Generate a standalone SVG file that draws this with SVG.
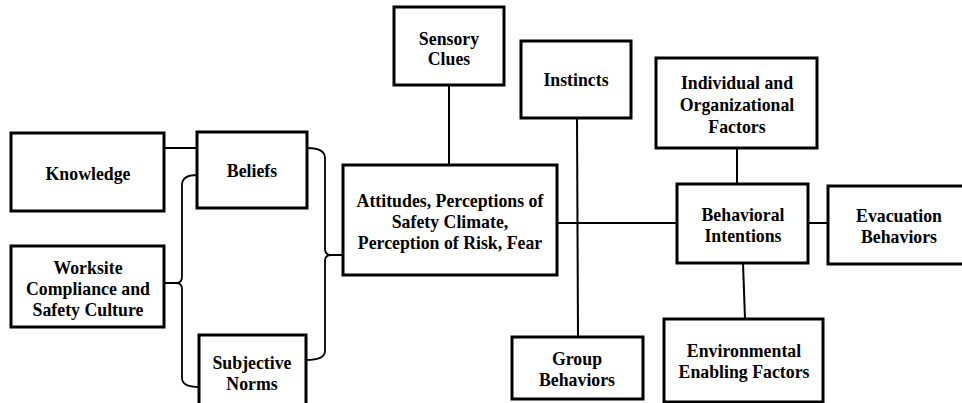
<svg xmlns="http://www.w3.org/2000/svg" width="962" height="403" viewBox="0 0 962 403">
<style>
.box{fill:#fff;stroke:#000;stroke-width:3}
.con{fill:none;stroke:#000;stroke-width:2}
.br{fill:none;stroke:#000;stroke-width:1.8}
text{font-family:"Liberation Serif","Times New Roman",serif;font-weight:bold;font-size:17.8px;fill:#000;text-anchor:middle}
</style>
<rect width="962" height="403" fill="#fff"/>
<g id="connectors">
<line class="con" x1="164" y1="148" x2="197" y2="148"/>
<path class="br" d="M197,175 Q182,175 182,185 L182,277 Q182,283 176,283 L164,283 M176,283 Q182,283 182,289 L182,378 Q182,387 199,387"/>
<path class="br" d="M307,148 Q325,148 325,158 L325,249 Q325,255 331,255 L343,255 M331,255 Q325,255 325,261 L325,351 Q325,360 306,360"/>
<line class="con" x1="449" y1="85" x2="449" y2="165"/>
<line class="con" x1="577" y1="117" x2="578" y2="337"/>
<line class="con" x1="557" y1="223" x2="677" y2="223"/>
<line class="con" x1="737" y1="148" x2="737" y2="184"/>
<line class="con" x1="808" y1="223" x2="828" y2="223"/>
<line class="con" x1="743" y1="263" x2="745" y2="319"/>
</g>
<g id="knowledge"><rect class="box" x="11" y="133" width="153" height="78"/><text x="88" y="180">Knowledge</text></g>
<g id="beliefs"><rect class="box" x="197" y="132" width="110" height="76"/><text x="252" y="177">Beliefs</text></g>
<g id="worksite"><rect class="box" x="11" y="246" width="153" height="81"/><text x="88" y="274">Worksite</text><text x="88" y="295">Compliance and</text><text x="88" y="316">Safety Culture</text></g>
<g id="subjective-norms"><rect class="box" x="199" y="335" width="107" height="70"/><text x="252" y="369">Subjective</text><text x="252" y="390">Norms</text></g>
<g id="sensory-clues"><rect class="box" x="394" y="7" width="110" height="78"/><text x="449" y="45">Sensory</text><text x="449" y="65">Clues</text></g>
<g id="attitudes"><rect class="box" x="343" y="165" width="214" height="110"/><text x="450" y="207">Attitudes, Perceptions of</text><text x="450" y="228">Safety Climate,</text><text x="450" y="249">Perception of Risk, Fear</text></g>
<g id="instincts"><rect class="box" x="521" y="41" width="110" height="77"/><text x="576" y="86">Instincts</text></g>
<g id="group-behaviors"><rect class="box" x="512" y="337" width="131" height="62"/><text x="577" y="365">Group</text><text x="577" y="386">Behaviors</text></g>
<g id="individual-org"><rect class="box" x="656" y="58" width="161" height="90"/><text x="737" y="89">Individual and</text><text x="737" y="111">Organizational</text><text x="737" y="133">Factors</text></g>
<g id="behavioral-intentions"><rect class="box" x="677" y="184" width="131" height="79"/><text x="743" y="221">Behavioral</text><text x="743" y="242">Intentions</text></g>
<g id="evacuation"><rect class="box" x="828" y="186" width="142" height="78"/><text x="899" y="222">Evacuation</text><text x="899" y="243">Behaviors</text></g>
<g id="environmental"><rect class="box" x="664" y="319" width="159" height="83"/><text x="744" y="357">Environmental</text><text x="744" y="378">Enabling Factors</text></g>
</svg>
